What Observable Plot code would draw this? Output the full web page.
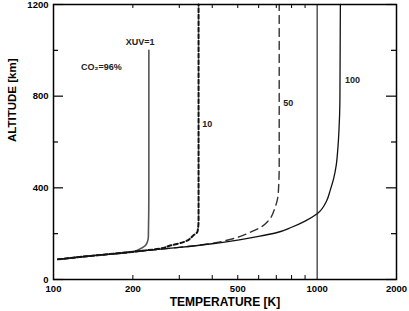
<!DOCTYPE html>
<html><head><meta charset="utf-8">
<script src="https://cdn.jsdelivr.net/npm/d3@7"></script>
<script src="https://cdn.jsdelivr.net/npm/@observablehq/plot@0.6"></script>
<style>body{margin:0;background:#fff}</style>
</head><body><div id="chart"></div>
<script>
// XUV = 1
const t1 = [104,130,160,196,210,219,226,229,230,230];
const a1 = [88,100,109,119,130,141,158,185,400,1000];
// XUV = 10
const t10 = [104,130,160,200,254,277,311,339,352,355,355];
const a10 = [88,100,110,121,135,148,163,192,210,260,1200];
// XUV = 50
const t50 = [104,130,160,200,300,400,468,511,557,617,654,693,712,718,718];
const a50 = [88,100,110,121,140,158,175,188,206,231,257,315,375,500,1200];
// XUV = 100
const t100 = [104,130,160,200,300,400,500,600,700,800,900,1000,1088,1120,1155,1182,1198,1210,1220,1225];
const a100 = [88,100,110,121,140,156,172,188,204,228,255,287,345,388,440,500,570,650,780,1200];

const xTickLabels = [100,200,500,1000,2000];
const xMinorTicks = [200,300,400,500,600,700,800,900];
const yTickLabels = [0,400,800,1200];
const yMinorTicks = [200,600,1000];
const refTemp = [1000];

// centred annotations
const midText = ["XUV=1","CO\u2082=96%"];
const midT = [213,152];
const midAlt = [1034,925];
// left-aligned curve labels
const curveText = ["10","50","100"];
const curveT = [367,743,1276];
const curveAlt = [676,768,868];

const toPts = (t,a) => t.map((v,i)=>({t:v, a:a[i]}));
const midLabels = midText.map((s,i)=>({s, t:midT[i], a:midAlt[i]}));
const curveLabels = curveText.map((s,i)=>({s, t:curveT[i], a:curveAlt[i]}));

const W = 409, H = 311, mL = 53, mR = 13, mT = 4, mB = 32;
const fw = W - mL - mR, fh = H - mT - mB;

const chart = Plot.plot({
  width: W, height: H,
  marginLeft: mL, marginRight: mR, marginTop: mT, marginBottom: mB,
  style: {fontFamily: "'Liberation Sans', Arial, sans-serif", fontSize: "9px", fontWeight: "bold", background: "#fff", overflow: "visible"},
  x: {type: "log", domain: [100, 2000]},
  y: {domain: [0, 1200]},
  marks: [
    Plot.axisX({ticks: xTickLabels, tickSize: 0, tickPadding: 6, tickFormat: d => String(d), label: null, fontSize: 9.5}),
    Plot.axisY({ticks: yTickLabels, tickSize: 0, tickPadding: 5, tickFormat: d => String(d), label: null, fontSize: 9.5}),
    // inward ticks
    Plot.tickX(xMinorTicks, {x: d => d, insetTop: fh - 4, strokeWidth: 1}),
    Plot.tickX(xMinorTicks, {x: d => d, insetBottom: fh - 4, strokeWidth: 1}),
    Plot.tickY(yTickLabels, {y: d => d, insetRight: fw - 10, strokeWidth: 1.2}),
    Plot.tickY(yTickLabels, {y: d => d, insetLeft: fw - 10, strokeWidth: 1.2}),
    Plot.tickY(yMinorTicks, {y: d => d, insetRight: fw - 5, strokeWidth: 1.2}),
    Plot.tickY(yMinorTicks, {y: d => d, insetLeft: fw - 5, strokeWidth: 1.2}),
    Plot.ruleX(refTemp, {x: d => d, stroke: "#000", strokeWidth: 1}),
    Plot.line(toPts(t1,a1), {x: "t", y: "a", stroke: "#555", strokeWidth: 1.6, curve: "monotone-y"}),
    Plot.line(toPts(t10,a10), {x: "t", y: "a", stroke: "#111", strokeWidth: 2, strokeDasharray: "4,2.5", curve: "monotone-y"}),
    Plot.line(toPts(t50,a50), {x: "t", y: "a", stroke: "#333", strokeWidth: 1.4, strokeDasharray: "8,5", curve: "monotone-y"}),
    Plot.line(toPts(t100,a100), {x: "t", y: "a", stroke: "#111", strokeWidth: 1.3, curve: "monotone-y"}),
    Plot.text(midLabels, {x: "t", y: "a", text: "s", textAnchor: "middle", fill: "#222", fontSize: 9, fontWeight: "bold"}),
    Plot.text(curveLabels, {x: "t", y: "a", text: "s", textAnchor: "start", fill: "#222", fontSize: 9, fontWeight: "bold"}),
    Plot.text(["TEMPERATURE [K]"], {frameAnchor: "bottom", dy: 26.5, fontSize: 12, fontWeight: "bold", fill: "#000"}),
    Plot.text(["ALTITUDE [km]"], {frameAnchor: "left", dx: -41, rotate: -90, fontSize: 11.5, fontWeight: "bold", fill: "#000"}),
    Plot.frame({stroke: "#000", strokeWidth: 1.5})
  ]
});
document.getElementById("chart").appendChild(chart);
</script>
</body></html>
